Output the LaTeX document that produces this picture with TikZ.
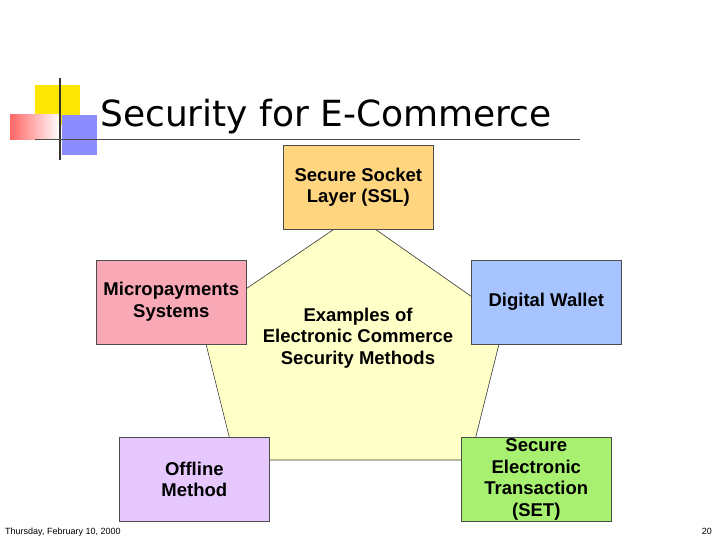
\documentclass[tikz,border=0pt]{standalone}
\usepackage{fontspec}
\setmainfont{Liberation Sans}
\newfontfamily\titlefont{DejaVu Sans}
\definecolor{cssl}{HTML}{FFD580}
\definecolor{cmic}{HTML}{F9A8B6}
\definecolor{cwal}{HTML}{A8C4FF}
\definecolor{coff}{HTML}{E6C8FF}
\definecolor{cset}{HTML}{A8F070}
\definecolor{cpen}{HTML}{FFFFC8}
\begin{document}
\begin{tikzpicture}[x=1pt,y=-1pt,
  lbl/.style={font=\bfseries\fontsize{18.5}{21.5}\selectfont,align=center},
  box/.style={draw=black!70,line width=0.6pt,minimum width=150pt,minimum height=84pt,anchor=north west,inner sep=0pt,lbl}]
\useasboundingbox (0,0) rectangle (720,540);
\fill[white] (0,0) rectangle (720,540);
% logo
\fill[yellow!90!orange] (35,85) rectangle (80,125);
\fill[blue!45!white] (62,115) rectangle (97,155);
\shade[left color=red!60,right color=white] (10,115) rectangle (60,140);
\draw[black!80,line width=1.2pt] (60,78) -- (60,160);
\draw[black!70,line width=1pt] (35,140) -- (580,140);
\node[anchor=base west,inner sep=0pt,font=\titlefont\fontsize{36}{40}\selectfont] (title) at (100,127) {Security for E-Commerce};
% pentagon
\filldraw[fill=cpen,draw=black!80,line width=0.6pt] (355,215) coordinate (p1) -- (505,320) coordinate (p2) -- (470,460) coordinate (p3) -- (235,460) coordinate (p4) -- (200,320) coordinate (p5) -- cycle;
\node[lbl] (center) at (358,338) {Examples of\\Electronic Commerce\\Security Methods};
\node[box,fill=cssl] (ssl) at (283,145) {Secure Socket\\Layer (SSL)};
\node[box,fill=cmic] (micro) at (96,260) {};
\node[lbl,anchor=north,inner sep=0pt] at ([yshift=-22pt]micro.north) {Micropayments\\Systems};
\node[box,fill=cwal] (wallet) at (471,260) {};
\node[lbl] at ([yshift=-42pt]wallet.north) {Digital Wallet};
\node[box,fill=coff] (offline) at (119,437) {Offline\\Method};
\node[box,fill=cset] (set) at (461,437) {Secure\\Electronic\\Transaction\\(SET)};
\node[anchor=base west,inner sep=0pt,font=\fontsize{9}{10}\selectfont] (date) at (5,534) {Thursday, February 10, 2000};
\node[anchor=base east,inner sep=0pt,font=\fontsize{9}{10}\selectfont] (num) at (712,534) {20};
\end{tikzpicture}
\end{document}
